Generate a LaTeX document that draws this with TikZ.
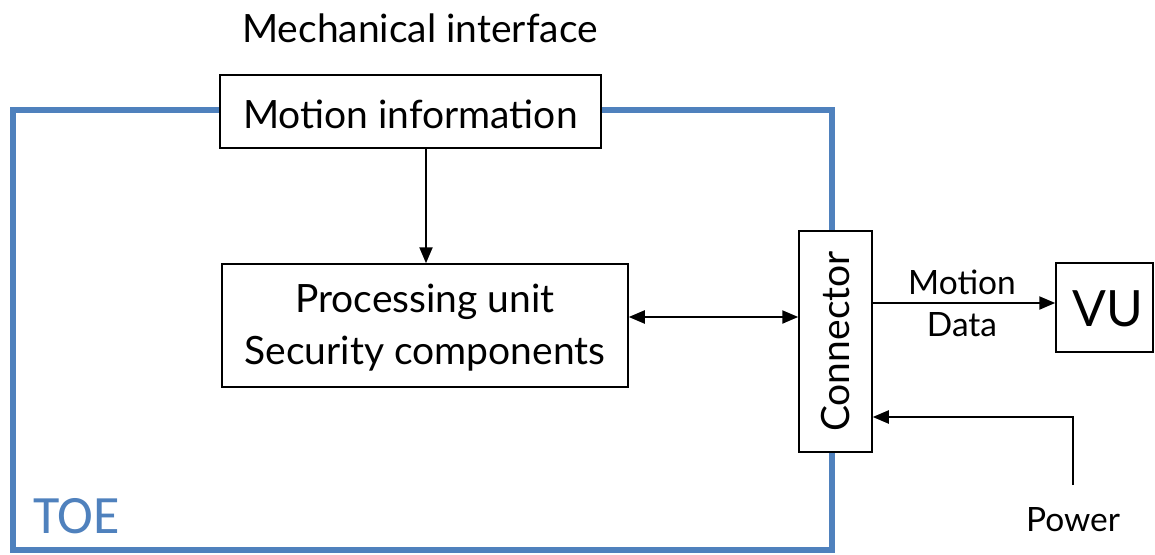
\documentclass[tikz,border=0pt]{standalone}
\usepackage{fontspec}
\setmainfont{Lato}
\newfontfamily\toefont{Carlito}
\usetikzlibrary{arrows.meta}
\definecolor{toeblue}{RGB}{79,129,189}
\tikzset{
  box/.style={draw=black, line width=1.5pt, fill=white, inner sep=0pt, align=center},
  flow/.style={line width=2.2pt, -{Triangle[length=16pt,width=13pt]}},
  biflow/.style={line width=2.2pt, {Triangle[length=16pt,width=13pt]}-{Triangle[length=16pt,width=13pt]}},
  txt/.style={inner sep=0pt, align=center, font=\fontsize{39}{46}\selectfont},
  small/.style={inner sep=0pt, align=center, font=\fontsize{33.5}{40}\selectfont},
}
\begin{document}
\begin{tikzpicture}[x=1pt,y=-1pt]
\useasboundingbox (0,0) rectangle (1155,554);
% TOE boundary
\draw[toeblue, line width=6pt] (13,110) rectangle (832,550);
\node[inner sep=0pt, anchor=south west, text=toeblue, font=\toefont\fontsize{54}{60}\selectfont] (toe) at (33,534) {TOE};

\node[txt] (mech) at (420,28) {Mechanical interface};
\node[box, minimum width=381pt, minimum height=73pt] (motion) at (410.5,111.5) {};
\node[txt] (motionlbl) at (410.5,114) {Motion information};
\node[box, minimum width=406pt, minimum height=123pt] (proc) at (425,325.5) {};
\node[txt, font=\fontsize{39}{52}\selectfont] (proclbl) at (425,328) {Processing unit\\Security components};
\node[box, minimum width=73pt, minimum height=221pt] (conn) at (835.5,341.5) {};
\node[txt, rotate=90] (connlbl) at (conn.center) {Connector};
\node[box, minimum width=97pt, minimum height=89pt] (vu) at (1104.5,307.5) {};
\node[inner sep=0pt, font=\fontsize{50}{54}\selectfont] (vulbl) at (1108,309) {VU};
\node[small] (mdtop) at (962,282) {Motion};
\node[small] (mdbot) at (962,325) {Data};
\node[small] (power) at (1073,520) {Power};
\coordinate (pwrstart) at (1073,485);

\draw[flow] (motion.south -| 426,0) -- (proc.north -| 426,0);
\draw[biflow] (proc.east |- 0,317) -- (conn.west |- 0,317);
\draw[flow] (conn.east |- 0,303) -- (vu.west |- 0,303);
\draw[flow] (pwrstart) -- (1073,417) -- (conn.east |- 0,417);
\end{tikzpicture}
\end{document}
